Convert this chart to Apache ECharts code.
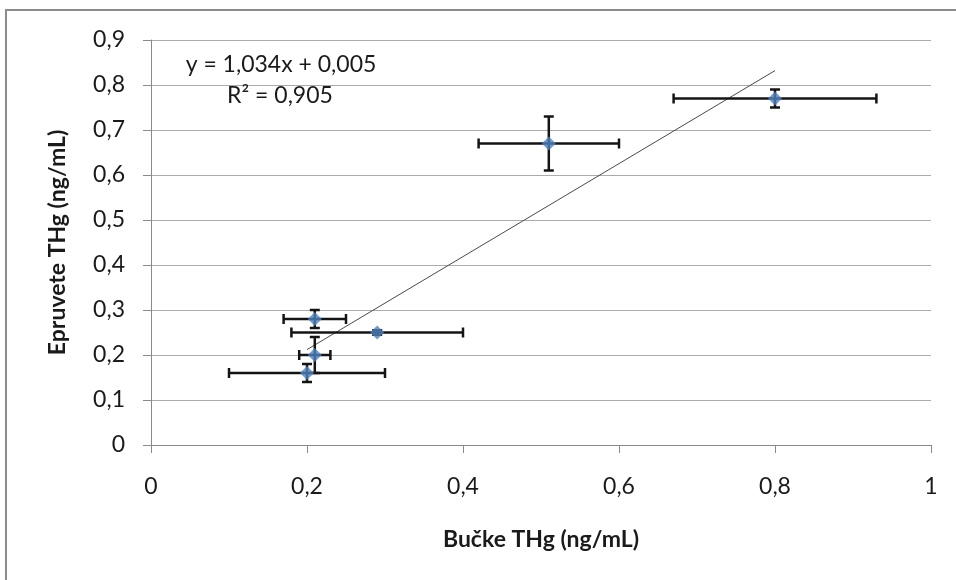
<!DOCTYPE html>
<html>
<head>
<meta charset="utf-8">
<script src="https://cdn.jsdelivr.net/npm/echarts@6/dist/echarts.min.js"></script>
<style>
html,body{margin:0;padding:0;background:#fff;}
#chart{width:956px;height:580px;}
</style>
</head>
<body>
<div id="chart"></div>
<script>
// Data
var xVals = [0.20, 0.21, 0.21, 0.29, 0.51, 0.80];
var yVals = [0.16, 0.20, 0.28, 0.25, 0.67, 0.77];
var xErr  = [0.10, 0.02, 0.04, 0.11, 0.09, 0.13];
var yErr  = [0.02, 0.04, 0.02, 0.005, 0.06, 0.02];
var trendX = [0.20, 0.80];
var trendY = [0.212, 0.832];
var xTicks = ['0', '0,2', '0,4', '0,6', '0,8', '1'];
var yTicks = ['0', '0,1', '0,2', '0,3', '0,4', '0,5', '0,6', '0,7', '0,8', '0,9'];
var equationText = 'y = 1,034x + 0,005';
var r2Text = 'R² = 0,905';
var xTitle = 'Bučke THg (ng/mL)';
var yTitle = 'Epruvete THg (ng/mL)';

var FONT = 'Lato';
var points = xVals.map(function (x, i) { return [x, yVals[i]]; });
var errData = xVals.map(function (x, i) { return [x, yVals[i], xErr[i], yErr[i]]; });
var trendData = trendX.map(function (x, i) { return [x, trendY[i]]; });

function fmt(v, ticks, step) {
  var idx = Math.round(v / step);
  return ticks[idx] !== undefined ? ticks[idx] : String(v);
}

var chart = echarts.init(document.getElementById('chart'), null, {renderer: 'canvas'});
var option = {
  animation: false,
  backgroundColor: '#ffffff',
  grid: {left: 151, top: 40, right: 25, bottom: 135, containLabel: false},
  xAxis: {
    type: 'value', min: 0, max: 1, interval: 0.2,
    name: xTitle, nameLocation: 'middle', nameGap: 83,
    nameTextStyle: {fontFamily: FONT, fontSize: 23, fontWeight: 'bold', color: '#1a1a1a', lineHeight: 24},
    axisLine: {show: true, lineStyle: {color: '#8a8a8a', width: 1}},
    axisTick: {show: true, inside: false, length: 8, lineStyle: {color: '#8a8a8a'}},
    axisLabel: {margin: 30, fontFamily: FONT, fontSize: 23, color: '#1a1a1a', lineHeight: 24,
      formatter: function (v) { return fmt(v, xTicks, 0.2); }},
    splitLine: {show: false}
  },
  yAxis: {
    type: 'value', min: 0, max: 0.9, interval: 0.1,
    name: yTitle, nameLocation: 'middle', nameGap: 81, nameRotate: 90,
    nameTextStyle: {fontFamily: FONT, fontSize: 23, fontWeight: 'bold', color: '#1a1a1a', lineHeight: 24},
    axisLine: {show: true, lineStyle: {color: '#8a8a8a', width: 1}},
    axisTick: {show: true, inside: false, length: 8, lineStyle: {color: '#8a8a8a'}},
    axisLabel: {margin: 26, fontFamily: FONT, fontSize: 23, color: '#1a1a1a',
      formatter: function (v) { return fmt(v, yTicks, 0.1); }},
    splitLine: {show: true, lineStyle: {color: '#ababab', width: 1}}
  },
  graphic: [
    {type: 'rect', shape: {x: 6, y: 10, width: 1200, height: 1200}, style: {fill: 'none', stroke: '#8c8c8c', lineWidth: 2}, silent: true, z: 100},
    {type: 'text', x: 281, y: 65, style: {text: equationText, font: '23px Lato', fill: '#1a1a1a', textAlign: 'center', textVerticalAlign: 'middle'}, z: 100},
    {type: 'text', x: 280, y: 96, style: {text: r2Text, font: '23px Lato', fill: '#1a1a1a', textAlign: 'center', textVerticalAlign: 'middle'}, z: 100}
  ],
  series: [
    {
      type: 'line', data: trendData, showSymbol: false, symbol: 'none',
      lineStyle: {color: '#4a4a4a', width: 1}, z: 2, silent: true
    },
    {
      type: 'custom', z: 3, silent: true,
      data: errData,
      encode: {x: 0, y: 1},
      renderItem: function (params, api) {
        var x = api.value(0), y = api.value(1), ex = api.value(2), ey = api.value(3);
        var L = api.coord([x - ex, y]);
        var R = api.coord([x + ex, y]);
        var T = api.coord([x, y + ey]);
        var B = api.coord([x, y - ey]);
        var cap = 5;
        var st = {stroke: '#141414', lineWidth: 2.5};
        return {
          type: 'group',
          children: [
            {type: 'line', shape: {x1: L[0], y1: L[1], x2: R[0], y2: R[1]}, style: st},
            {type: 'line', shape: {x1: L[0], y1: L[1] - cap, x2: L[0], y2: L[1] + cap}, style: st},
            {type: 'line', shape: {x1: R[0], y1: R[1] - cap, x2: R[0], y2: R[1] + cap}, style: st},
            {type: 'line', shape: {x1: T[0], y1: T[1], x2: B[0], y2: B[1]}, style: st},
            {type: 'line', shape: {x1: T[0] - cap, y1: T[1], x2: T[0] + cap, y2: T[1]}, style: st},
            {type: 'line', shape: {x1: B[0] - cap, y1: B[1], x2: B[0] + cap, y2: B[1]}, style: st}
          ]
        };
      }
    },
    {
      type: 'scatter', data: points, symbol: 'diamond', symbolSize: 14,
      itemStyle: {color: '#4f81bd'}, z: 4, silent: true
    }
  ]
};
chart.setOption(option);
</script>
</body>
</html>
